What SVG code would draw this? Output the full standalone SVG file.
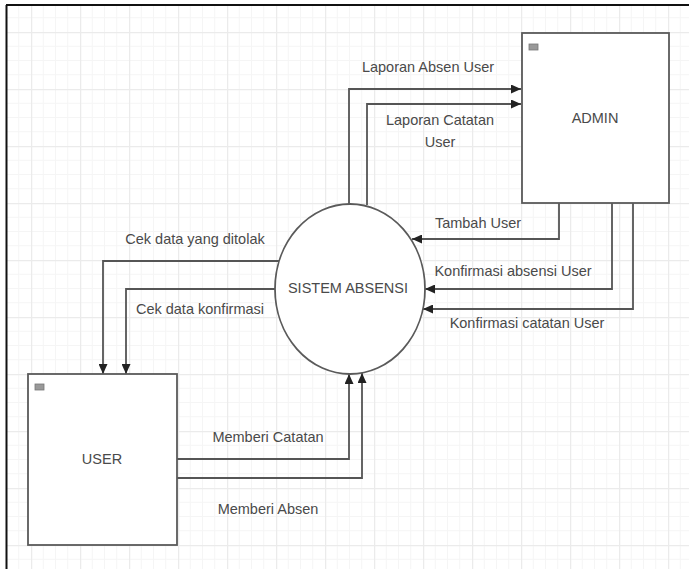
<svg xmlns="http://www.w3.org/2000/svg" width="689" height="569" viewBox="0 0 689 569">
  <defs>
    <pattern id="grid" x="31" y="32" width="49" height="57" patternUnits="userSpaceOnUse">
      <path d="M12.25,0 V57 M24.5,0 V57 M36.75,0 V57 M0,14.25 H49 M0,28.5 H49 M0,42.75 H49" stroke="#f5f5f5" stroke-width="1" fill="none"/>
      <path d="M0.5,0 V57 M0,0.5 H49" stroke="#ebebeb" stroke-width="1.5" fill="none"/>
    </pattern>
    <marker id="arr" markerUnits="userSpaceOnUse" markerWidth="11" markerHeight="9" refX="10" refY="4.5" orient="auto">
      <path d="M0,0 L10,4.5 L0,9 z" fill="#222"/>
    </marker>
    <style>
      .lbl { font-family: "Liberation Sans", Arial, sans-serif; font-size: 14.5px; fill: #4a4a4a; text-anchor: middle; }
      .box { fill: #fff; stroke: #5a5a5a; stroke-width: 1.8; }
      .icon { fill: #999; stroke: #777; stroke-width: 0.8; }
      .conn { fill: none; stroke: #555; stroke-width: 1.8; marker-end: url(#arr); }
    </style>
  </defs>
  <rect x="0" y="0" width="689" height="569" fill="#fff"/>
  <rect x="7" y="6" width="682" height="563" fill="url(#grid)"/>
  <path d="M6,5 H689 M6.5,5 V569" stroke="#111" stroke-width="2" fill="none"/>

  <g id="connectors">
    <path class="conn" d="M349,204 V89 H521"/>
    <path class="conn" d="M367,205 V104 H521"/>
    <path class="conn" d="M559,203 V239 H412"/>
    <path class="conn" d="M612,203 V289 H425"/>
    <path class="conn" d="M633,203 V309 H423"/>
    <path class="conn" d="M279,261 H103 V374"/>
    <path class="conn" d="M275,289 H126 V374"/>
    <path class="conn" d="M177,459 H349 V374"/>
    <path class="conn" d="M177,478 H362 V373"/>
  </g>

  <g id="admin">
    <rect class="box" x="522" y="33" width="147" height="170"/>
    <rect class="icon" x="529" y="44" width="9" height="6"/>
    <text class="lbl" x="595" y="123">ADMIN</text>
  </g>

  <g id="sistem-absensi">
    <ellipse cx="350" cy="289" rx="75" ry="85" fill="#fff" stroke="#5a5a5a" stroke-width="1.8"/>
    <text class="lbl" x="348" y="293">SISTEM ABSENSI</text>
  </g>

  <g id="user">
    <rect class="box" x="28" y="374" width="149" height="171"/>
    <rect class="icon" x="35" y="384" width="9" height="6"/>
    <text class="lbl" x="102" y="464">USER</text>
  </g>

  <g id="labels">
    <text class="lbl" x="428" y="72">Laporan Absen User</text>
    <text class="lbl" x="440" y="125">Laporan Catatan</text>
    <text class="lbl" x="440" y="147">User</text>
    <text class="lbl" x="478" y="228">Tambah User</text>
    <text class="lbl" x="513" y="276">Konfirmasi absensi User</text>
    <text class="lbl" x="527" y="328">Konfirmasi catatan User</text>
    <text class="lbl" x="195" y="244">Cek data yang ditolak</text>
    <text class="lbl" x="200" y="314">Cek data konfirmasi</text>
    <text class="lbl" x="268" y="442">Memberi Catatan</text>
    <text class="lbl" x="268" y="514">Memberi Absen</text>
  </g>
</svg>
